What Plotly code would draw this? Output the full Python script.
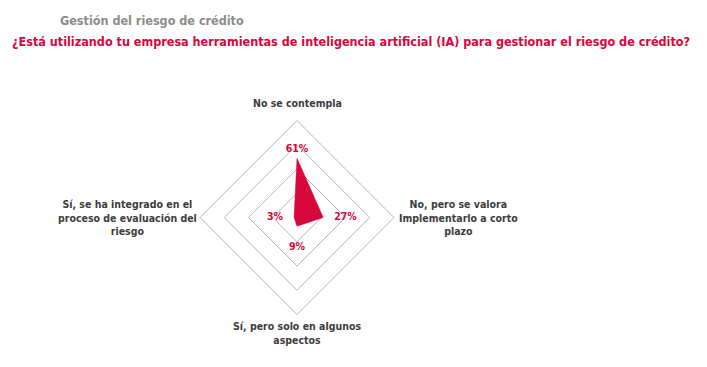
import plotly.graph_objects as go

categories = [
    "No se contempla",
    "No, pero se valora<br>Implementarlo a corto<br>plazo",
    "Sí, pero solo en algunos<br>aspectos",
    "Sí, se ha integrado en el<br>proceso de evaluación del<br>riesgo",
]
values = [61, 27, 9, 3]
value_labels = ["61%", "27%", "9%", "3%"]
grid_ticks = [25, 50, 75, 100]

RED = "#D7063B"
GRAY_TITLE = "#8C8C8C"
LABEL = "#3C3C3C"
FONT = "Liberation Sans Narrow, DejaVu Sans Condensed, Arial Narrow, sans-serif"

# page body has an 8px margin, so the figure is drawn 8px in from the top-left
OFF = 8
W, H = 707 - OFF, 367 - OFF


def px(x):
    return (x - OFF) / W


def py(y):
    return (H - (y - OFF)) / H


cx, cy, R = 297, 217.5, 97

fig = go.Figure()
fig.add_trace(go.Scatterpolar(
    r=values + [values[0]],
    theta=categories + [categories[0]],
    mode="lines",
    fill="toself",
    fillcolor=RED,
    line=dict(color=RED, width=0.5),
    hoverinfo="skip",
    showlegend=False,
))
fig.add_trace(go.Scatterpolar(
    r=values,
    theta=categories,
    mode="markers+text",
    marker=dict(size=[4, 16, 24, 16], opacity=0),
    text=value_labels,
    textposition=["top center", "middle right", "bottom center", "middle left"],
    textfont=dict(family=FONT, size=10.5, color=RED, weight="bold"),
    showlegend=False,
    hoverinfo="skip",
))

fig.update_layout(
    width=W, height=H,
    margin=dict(l=0, r=0, t=0, b=0),
    paper_bgcolor="white",
    plot_bgcolor="white",
    font=dict(family=FONT),
    polar=dict(
        domain=dict(x=[px(cx - R), px(cx + R)], y=[py(cy + R), py(cy - R)]),
        gridshape="linear",
        bgcolor="white",
        radialaxis=dict(range=[0, 100], tickvals=grid_ticks, showticklabels=False,
                        showline=False, gridcolor="#B5B5B5", gridwidth=1, ticks=""),
        angularaxis=dict(direction="clockwise", rotation=90, showticklabels=False,
                         showgrid=False, showline=True, linecolor="#B5B5B5", linewidth=1, ticks=""),
    ),
)

# category labels
lab_font = dict(family=FONT, size=10.5, color=LABEL, weight="bold")
fig.add_annotation(x=px(cx), y=py(cy - R - 9), xref="paper", yref="paper",
                   text=categories[0], showarrow=False, xanchor="center", yanchor="bottom",
                   font=lab_font, align="center")
fig.add_annotation(x=px(cx + R + 3), y=py(cy), xref="paper", yref="paper",
                   text=categories[1], showarrow=False, xanchor="left", yanchor="middle",
                   font=lab_font, align="center")
fig.add_annotation(x=px(cx), y=py(cy + R + 3), xref="paper", yref="paper",
                   text=categories[2], showarrow=False, xanchor="center", yanchor="top",
                   font=lab_font, align="center")
fig.add_annotation(x=px(cx - R - 1), y=py(cy), xref="paper", yref="paper",
                   text=categories[3], showarrow=False, xanchor="right", yanchor="middle",
                   font=lab_font, align="center")

# titles
fig.add_annotation(x=px(58), y=py(20), xref="paper", yref="paper",
                   text="Gestión del riesgo de crédito", showarrow=False,
                   xanchor="left", yanchor="middle",
                   font=dict(family=FONT, size=12.5, color=GRAY_TITLE, weight="bold"))
fig.add_annotation(x=px(10), y=py(41), xref="paper", yref="paper",
                   text="¿Está utilizando tu empresa herramientas de inteligencia artificial (IA) para gestionar el riesgo de crédito?",
                   showarrow=False, xanchor="left", yanchor="middle",
                   font=dict(family=FONT, size=12.5, color=RED, weight="bold"))

fig.write_html("out.html")
